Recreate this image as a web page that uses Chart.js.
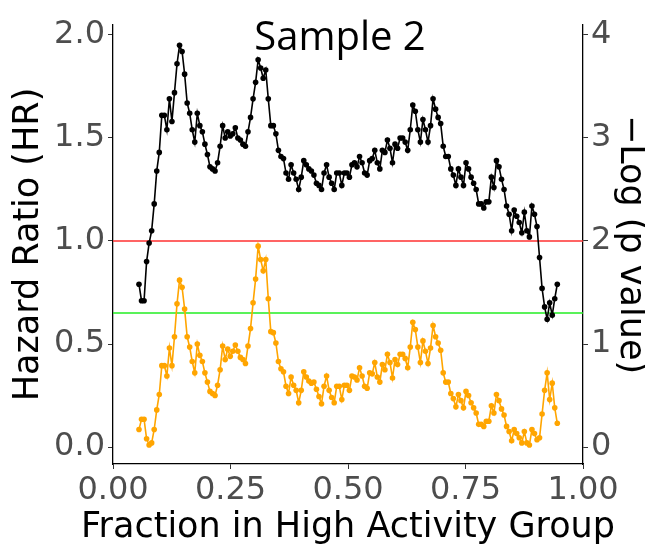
<!DOCTYPE html>
<html>
<head>
<meta charset="utf-8">
<script src="https://cdn.jsdelivr.net/npm/chart.js@4.4.1/dist/chart.umd.min.js"></script>
<style>
  html, body { margin: 0; padding: 0; background: #fff; }
  #wrap { width: 645px; height: 545px; position: relative; }
</style>
</head>
<body>
<div id="wrap"><canvas id="grafico"></canvas></div>
<script>
// fraction in high activity group: evenly spaced from first to last point
const xFirst = 0.0553;
const xLast = 0.9453;

// Hazard ratio (left axis)
const hazardRatio = [
  0.79, 0.71, 0.71, 0.90, 0.99, 1.05, 1.18, 1.34, 1.43, 1.61,
  1.61, 1.54, 1.69, 1.58, 1.72, 1.86, 1.95, 1.92, 1.81, 1.67,
  1.62, 1.54, 1.48, 1.62, 1.56, 1.53, 1.47, 1.42, 1.36, 1.35,
  1.34, 1.38, 1.46, 1.56, 1.50, 1.53, 1.51, 1.52, 1.55, 1.50,
  1.49, 1.47, 1.46, 1.53, 1.60, 1.69, 1.77, 1.88, 1.84, 1.79,
  1.83, 1.69, 1.56, 1.56, 1.52, 1.44, 1.41, 1.40, 1.33, 1.30,
  1.37, 1.33, 1.30, 1.25, 1.31, 1.39, 1.37, 1.35, 1.34, 1.32,
  1.28, 1.27, 1.25, 1.33, 1.37, 1.31, 1.28, 1.25, 1.33, 1.33,
  1.27, 1.33, 1.33, 1.31, 1.37, 1.38, 1.36, 1.41, 1.38, 1.33,
  1.32, 1.39, 1.40, 1.44, 1.38, 1.35, 1.44, 1.43, 1.49, 1.45,
  1.38, 1.47, 1.45, 1.50, 1.50, 1.48, 1.44, 1.54, 1.66, 1.63,
  1.54, 1.48, 1.59, 1.54, 1.48, 1.56, 1.69, 1.64, 1.60, 1.57,
  1.46, 1.41, 1.41, 1.35, 1.32, 1.27, 1.35, 1.31, 1.27, 1.38,
  1.35, 1.31, 1.28, 1.25, 1.18, 1.18, 1.16, 1.19, 1.19, 1.31,
  1.26, 1.39, 1.36, 1.30, 1.25, 1.17, 1.13, 1.05, 1.15, 1.12,
  1.09, 1.04, 1.14, 1.05, 1.02, 1.17, 1.13, 1.07, 0.92, 0.77,
  0.68, 0.62, 0.70, 0.64, 0.72, 0.79
];

// -log10(p value) (right axis)
const negLogP = [
  0.17, 0.27, 0.27, 0.08, 0.02, 0.04, 0.17, 0.36, 0.51, 0.79,
  0.79, 0.69, 0.96, 0.79, 1.07, 1.39, 1.62, 1.55, 1.34, 1.07,
  0.97, 0.83, 0.72, 1.00, 0.89, 0.83, 0.72, 0.63, 0.54, 0.52,
  0.50, 0.60, 0.75, 0.98, 0.85, 0.95, 0.88, 0.93, 0.99, 0.93,
  0.87, 0.85, 0.81, 0.98, 1.15, 1.40, 1.63, 1.95, 1.82, 1.71,
  1.82, 1.44, 1.12, 1.11, 1.01, 0.83, 0.76, 0.73, 0.59, 0.52,
  0.68, 0.60, 0.55, 0.43, 0.55, 0.73, 0.68, 0.64, 0.62, 0.63,
  0.56, 0.49, 0.42, 0.59, 0.69, 0.55, 0.48, 0.43, 0.59, 0.59,
  0.46, 0.60, 0.60, 0.55, 0.69, 0.68, 0.65, 0.77, 0.69, 0.59,
  0.57, 0.72, 0.71, 0.82, 0.68, 0.63, 0.80, 0.75, 0.90, 0.82,
  0.67, 0.85, 0.80, 0.90, 0.90, 0.86, 0.77, 0.97, 1.21, 1.14,
  0.97, 0.82, 1.03, 0.93, 0.81, 0.96, 1.18, 1.07, 1.01, 0.94,
  0.72, 0.63, 0.63, 0.52, 0.47, 0.39, 0.51, 0.45, 0.38, 0.54,
  0.50, 0.43, 0.38, 0.33, 0.22, 0.22, 0.20, 0.25, 0.25, 0.40,
  0.33, 0.51, 0.45, 0.37, 0.31, 0.20, 0.15, 0.06, 0.17, 0.13,
  0.09, 0.04, 0.15, 0.04, 0.02, 0.17, 0.13, 0.07, 0.09, 0.32,
  0.55, 0.72, 0.46, 0.62, 0.38, 0.23
];

const xTicks = [0, 0.25, 0.5, 0.75, 1];
const hrTicks = [0, 0.5, 1, 1.5, 2];
const pTicks = [0, 1, 2, 3, 4];
const hrReference = 1;     // HR = 1 (red)
const pReference = 1.3;    // -log10(0.05) (green)

const chartTitle = 'Sample 2';
const xTitle = 'Fraction in High Activity Group';

const step = (xLast - xFirst) / (hazardRatio.length - 1);
const fractions = hazardRatio.map((_, i) => xFirst + i * step);

const tickFont = { family: '"DejaVu Sans"', size: 32 };
const titleFont = { family: '"DejaVu Sans"', size: 35 };
const tickGrey = '#4D4D4D';

// plot title sits inside the panel, x title is wider than the panel
const textPlugin = {
    id: 'extraText',
    afterDraw(chart) {
        const c = chart.ctx;
        c.save();
        c.fillStyle = '#000';
        c.textAlign = 'center';
        c.textBaseline = 'alphabetic';
        c.font = '40px "Open Sans"';
        c.fillText(chartTitle, 340, 50);
        c.font = '35px "DejaVu Sans"';
        c.fillText(xTitle, 348, 537);
        c.restore();
    }
};

const ctx = document.getElementById('grafico').getContext('2d');

new Chart(ctx, {
    type: 'line',
    data: {
        datasets: [
            {
                label: 'HR',
                data: fractions.map((x, i) => ({ x: x, y: hazardRatio[i] })),
                yAxisID: 'y',
                borderColor: '#000000',
                backgroundColor: '#000000',
                borderWidth: 1.6,
                pointRadius: 2.8,
                pointBorderWidth: 0,
                tension: 0
            },
            {
                label: '-log p',
                data: fractions.map((x, i) => ({ x: x, y: negLogP[i] })),
                yAxisID: 'y2',
                borderColor: '#FFA500',
                backgroundColor: '#FFA500',
                borderWidth: 1.6,
                pointRadius: 2.8,
                pointBorderWidth: 0,
                tension: 0
            },
            {
                label: 'HR = 1',
                data: [{ x: 0, y: hrReference }, { x: 1, y: hrReference }],
                yAxisID: 'y',
                borderColor: '#FF3030',
                borderWidth: 1.5,
                pointRadius: 0
            },
            {
                label: 'p = 0.05',
                data: [{ x: 0, y: pReference }, { x: 1, y: pReference }],
                yAxisID: 'y2',
                borderColor: '#22EE22',
                borderWidth: 1.5,
                pointRadius: 0
            }
        ]
    },
    options: {
        responsive: true,
        maintainAspectRatio: false,
        animation: false,
        layout: { padding: { top: 25, left: 0, right: 0, bottom: 0 } },
        plugins: {
            legend: { display: false },
            tooltip: { enabled: false }
        },
        scales: {
            x: {
                type: 'linear',
                min: 0,
                max: 1,
                afterFit: (s) => { s.height = 81; },
                afterBuildTicks: (s) => { s.ticks = xTicks.map(v => ({ value: v })); },
                grid: { drawOnChartArea: false, drawTicks: true, tickLength: 5, tickColor: '#333' },
                border: { color: '#000', width: 1.3 },
                ticks: {
                    font: tickFont,
                    color: tickGrey,
                    padding: 2,
                    maxRotation: 0,
                    callback: (v) => Number(v).toFixed(2)
                },
                title: { display: false }
            },
            y: {
                position: 'left',
                min: -0.0825,
                max: 2.0485,
                afterFit: (s) => { s.width = 113; },
                afterBuildTicks: (s) => { s.ticks = hrTicks.map(v => ({ value: v })); },
                grid: { drawOnChartArea: false, drawTicks: true, tickLength: 5, tickColor: '#333' },
                border: { color: '#000', width: 1.3 },
                ticks: {
                    font: tickFont,
                    color: tickGrey,
                    padding: 3,
                    callback: (v) => Number(v).toFixed(1)
                },
                title: {
                    display: true,
                    text: 'Hazard Ratio (HR)',
                    font: titleFont,
                    color: '#000',
                    padding: { top: 8, bottom: 0 }
                }
            },
            y2: {
                position: 'right',
                min: -0.165,
                max: 4.097,
                afterFit: (s) => { s.width = 62; },
                afterBuildTicks: (s) => { s.ticks = pTicks.map(v => ({ value: v })); },
                grid: { drawOnChartArea: false, drawTicks: true, tickLength: 5, tickColor: '#333' },
                border: { color: '#000', width: 1.3 },
                ticks: {
                    font: tickFont,
                    color: tickGrey,
                    padding: 3,
                    callback: (v) => String(v)
                },
                title: {
                    display: true,
                    text: '\u2212Log (p value)',
                    font: titleFont,
                    color: '#000',
                    padding: { top: -6, bottom: 0 }
                }
            }
        }
    },
    plugins: [textPlugin]
});
</script>
</body>
</html>
